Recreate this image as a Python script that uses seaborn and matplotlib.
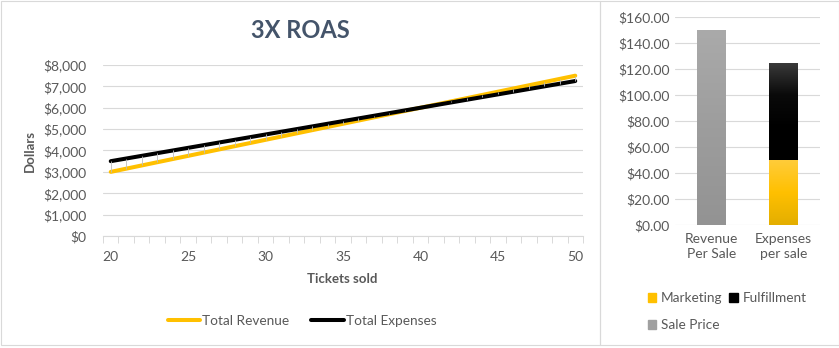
import numpy as np
import pandas as pd
import matplotlib
matplotlib.use("Agg")
import matplotlib.pyplot as plt
import seaborn as sns
from matplotlib.patches import Rectangle, Patch
from matplotlib.lines import Line2D
from matplotlib.colors import LinearSegmentedColormap

# ---------------- data ----------------
tickets = [20, 21, 22, 23, 24, 25, 26, 27, 28, 29, 30, 31, 32, 33, 34, 35,
           36, 37, 38, 39, 40, 41, 42, 43, 44, 45, 46, 47, 48, 49, 50]
total_revenue = [3000, 3150, 3300, 3450, 3600, 3750, 3900, 4050, 4200, 4350,
                 4500, 4650, 4800, 4950, 5100, 5250, 5400, 5550, 5700, 5850,
                 6000, 6150, 6300, 6450, 6600, 6750, 6900, 7050, 7200, 7350, 7500]
total_expenses = [3500, 3625, 3750, 3875, 4000, 4125, 4250, 4375, 4500, 4625,
                  4750, 4875, 5000, 5125, 5250, 5375, 5500, 5625, 5750, 5875,
                  6000, 6125, 6250, 6375, 6500, 6625, 6750, 6875, 7000, 7125, 7250]
y_ticks_left = [0, 1000, 2000, 3000, 4000, 5000, 6000, 7000, 8000]
x_label_ticks = [20, 25, 30, 35, 40, 45, 50]

bar_categories = ["Revenue\nPer Sale", "Expenses\nper sale"]
sale_price = [150, 0]
marketing = [0, 50]
fulfillment = [0, 75]
y_ticks_right = [0, 20, 40, 60, 80, 100, 120, 140, 160]

# ---------------- style ----------------
sns.set_theme(style="white")
plt.rcParams["font.family"] = ["Lato", "DejaVu Sans"]
TXT = "#595959"
GRID = "#d9d9d9"
YEL = "#FFC000"

W, H = 839, 348
fig = plt.figure(figsize=(W / 100, H / 100), dpi=100)
fig.patch.set_facecolor("white")

def fx(x):
    return x / W

def fy(y):
    return 1 - y / H

# chart borders
fig.add_artist(Rectangle((fx(0.5), fy(345)), fx(599.5), (345 - 0.5) / H,
                         transform=fig.transFigure, fill=False, ec=GRID, lw=0.8))
fig.add_artist(Rectangle((fx(600), fy(345)), fx(238.5), (345 - 0.5) / H,
                         transform=fig.transFigure, fill=False, ec=GRID, lw=0.8))

# ---------------- left: line chart ----------------
ax1 = fig.add_axes([fx(103), fy(236), fx(583 - 103), (236 - 65) / H])
df = pd.DataFrame({
    "Tickets": tickets * 2,
    "Dollars": total_revenue + total_expenses,
    "Series": ["Total Revenue"] * len(tickets) + ["Total Expenses"] * len(tickets),
})
sns.lineplot(data=df, x="Tickets", y="Dollars", hue="Series",
             palette={"Total Revenue": YEL, "Total Expenses": "black"},
             lw=2.9, ax=ax1, legend=False, zorder=3)
# high-low lines
lo = np.minimum(total_revenue, total_expenses)
hi = np.maximum(total_revenue, total_expenses)
ax1.vlines(tickets, lo, hi, colors="#bdbdbd", lw=0.6, zorder=4)

ax1.set_xlim(tickets[0] - 0.5, tickets[-1] + 0.5)
ax1.set_ylim(0, 8000)
ax1.set_yticks(y_ticks_left)
ax1.set_yticklabels([f"${v:,.0f}" for v in y_ticks_left])
ax1.set_xticks(x_label_ticks)
ax1.set_xticklabels([str(v) for v in x_label_ticks])
ax1.set_xticks([t - 0.5 for t in tickets] + [tickets[-1] + 0.5], minor=True)
ax1.tick_params(axis="x", which="major", length=0, pad=11, labelsize=10, labelcolor=TXT)
ax1.tick_params(axis="x", which="minor", length=5, width=0.7, color=GRID, direction="out", bottom=True)
ax1.tick_params(axis="y", length=0, pad=12, labelsize=10, labelcolor=TXT)
ax1.grid(axis="y", color=GRID, lw=0.8)
ax1.set_axisbelow(True)
for s in ["top", "right", "left"]:
    ax1.spines[s].set_visible(False)
ax1.spines["bottom"].set_color(GRID)
ax1.spines["bottom"].set_linewidth(0.8)
ax1.set_xlabel("")
ax1.set_ylabel("")

fig.text(fx(300), fy(30), "3X ROAS", ha="center", va="center",
         fontsize=17, fontweight="bold", color="#44546A")
fig.text(fx(30), fy(151), "Dollars", ha="center", va="center", rotation=90,
         fontsize=9.5, fontweight="bold", color=TXT)
fig.text(fx(342), fy(279), "Tickets sold", ha="center", va="center",
         fontsize=9.5, fontweight="bold", color=TXT)

h1 = [Line2D([], [], color=YEL, lw=2.9), Line2D([], [], color="black", lw=2.9)]
leg1 = fig.legend(h1, ["Total Revenue", "Total Expenses"], loc="center",
                  bbox_to_anchor=(fx(302), fy(321)), ncol=2, frameon=False,
                  handlelength=2.4, handletextpad=0.15, columnspacing=1.6,
                  fontsize=9.8, labelcolor=TXT)

# ---------------- right: bar chart ----------------
ax2 = fig.add_axes([fx(675), fy(225), fx(820 - 675), (225 - 17) / H])
xpos = np.arange(len(bar_categories))
bw = 0.4
b_sale = ax2.bar(xpos, sale_price, width=bw, color="#9e9e9e", zorder=2)
b_mkt = ax2.bar(xpos, marketing, width=bw, color=YEL, zorder=2)
b_ful = ax2.bar(xpos, fulfillment, width=bw, bottom=marketing, color="black", zorder=2)

def gradient(bars, colors):
    cmap = LinearSegmentedColormap.from_list("g", colors)
    grad = np.linspace(0, 1, 256).reshape(-1, 1)
    for p in bars:
        if p.get_height() <= 0:
            continue
        x0, y0 = p.get_x(), p.get_y()
        im = ax2.imshow(grad, cmap=cmap, aspect="auto", origin="lower",
                        extent=(x0, x0 + p.get_width(), y0, y0 + p.get_height()),
                        zorder=2.5, interpolation="bicubic")
        im.set_clip_path(p)
        p.set_alpha(0)

gradient(b_sale, ["#939393", "#9d9d9d", "#aaaaaa"])
gradient(b_mkt, ["#e3ae00", "#ffc000", "#ffcc3a"])
gradient(b_ful, ["#000000", "#000000", "#0a0a0a", "#3b3b3b"])

ax2.set_xlim(-0.5, 1.5)
ax2.set_ylim(0, 160)
ax2.set_yticks(y_ticks_right)
ax2.set_yticklabels([f"${v:,.2f}" for v in y_ticks_right])
ax2.set_xticks(xpos)
ax2.set_xticklabels(bar_categories, linespacing=1.3)
ax2.tick_params(axis="x", length=0, pad=6, labelsize=10, labelcolor=TXT)
ax2.tick_params(axis="y", length=0, pad=4, labelsize=10, labelcolor=TXT)
ax2.grid(axis="y", color=GRID, lw=0.8)
ax2.set_axisbelow(True)
for s in ["top", "right", "left", "bottom"]:
    ax2.spines[s].set_visible(False)

h2 = [Patch(color=YEL), Patch(color="#a0a0a0"), Patch(color="black")]
leg2 = fig.legend(h2, ["Marketing", "Sale Price", "Fulfillment"], loc="upper left",
                  bbox_to_anchor=(fx(636), fy(280)), ncol=2, frameon=False,
                  handlelength=0.6, handleheight=0.6, handletextpad=0.35,
                  columnspacing=0.5, labelspacing=1.1,
                  fontsize=9.8, labelcolor=TXT)

fig.savefig("out.png", dpi=100, facecolor="white")
